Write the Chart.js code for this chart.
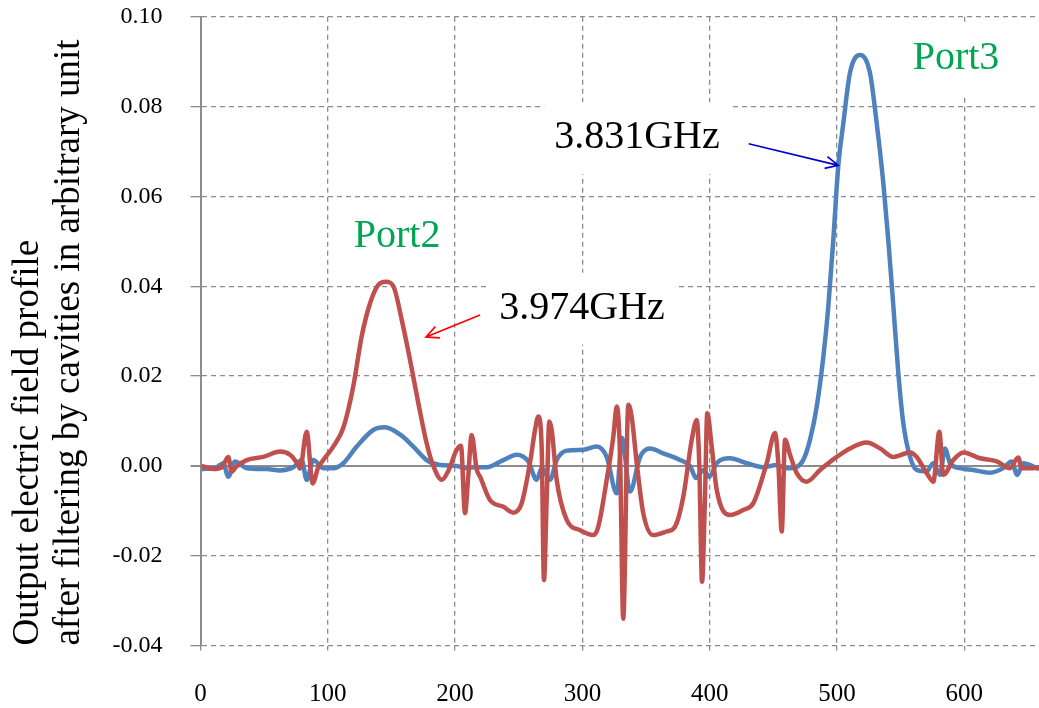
<!DOCTYPE html>
<html lang="en">
<head>
  <meta charset="UTF-8" />
  <title>Output electric field profile</title>
  <script src="https://cdn.jsdelivr.net/npm/chart.js"></script>
  <style>
    body { margin: 0; background: #fff; }
    .wrap { width: 1039px; height: 708px; position: relative; }
  </style>
</head>
<body>
  <div class="wrap"><canvas id="fieldChart"></canvas></div>
  <script>
    // Port2 (red) and Port3 (blue) output profiles
    const port2X = [0.9, 9.8, 16.7, 21.8, 24.5, 27.9, 36.3, 49.3, 62.5, 70.3, 76.8, 78.2, 83.4, 88.1, 92.3, 96.5,
      104.3, 112.2, 120.0, 126.6, 133.2, 139.7, 145.7, 151.5, 158.1, 164.6, 171.1, 177.7, 182.9, 189.5, 194.7,
      201.3, 204.6, 207.8, 210.4, 213.0, 217.0, 219.6, 227.4, 237.9, 245.7, 252.3, 258.8, 262.8, 265.4, 268.0, 269.8,
      272.0, 274.0, 275.9, 279.8, 287.7, 298.1, 308.6, 312.5, 319.1, 324.3, 327.0, 329.6, 332.1, 336.1, 338.7, 342.7,
      347.8, 355.7, 366.2, 372.8, 379.3, 385.9, 389.8, 391.8, 394.0, 396.3, 398.1, 401.6, 405.5, 416.0, 426.4, 434.3,
      444.8, 451.3, 453.9, 456.6, 459.2, 463.1, 468.4, 476.2, 486.7, 499.8, 510.2, 523.4, 533.8, 544.3, 557.4, 562.6,
      570.5, 575.7, 580.4, 583.5, 591.4, 599.2, 612.4, 625.5, 635.9, 642.4, 645.1, 654.2, 658.7];
    const port2Y = [0, -0.0007, -0.0003, 0.002, -0.0013, -0.0002, 0.0013, 0.002, 0.0032, 0.0025, 0.0002, -0.0006, 0.0076, -0.0039, -0.0005, 0.0013,
      0.0043, 0.0085, 0.0177, 0.0288, 0.0362, 0.0403, 0.041, 0.040, 0.0325, 0.0236, 0.014, 0.005, 0.0, -0.0031, -0.0011,
      0.0036, 0.0045, -0.0105, -0.002, 0.0069, -0.0008, -0.0024, -0.0076, -0.0091, -0.0104, -0.0083, 0.0006, 0.008, 0.011, 0.0043, -0.0254,
      -0.007, 0.0099, 0.008, -0.0031, -0.012, -0.0143, -0.0154, -0.0135, -0.0031, 0.0065, 0.0132, 0.002, -0.034, 0.0136, 0.011, 0.0006,
      -0.0105, -0.0154, -0.0146, -0.0135, -0.0068, 0.0058, 0.0102, 0.0006, -0.0258, -0.007, 0.0117, 0.0043, -0.0053, -0.0109, -0.0098, -0.0083,
      0.0006, 0.0073, 0.0006, -0.0146, 0.0058, 0.0025, -0.0016, -0.0035, -0.0009, 0.002, 0.0039, 0.0052, 0.0039, 0.002, 0.003, 0.002,
      -0.0016, -0.0035, 0.0076, -0.002, 0.0013, 0.003, 0.0017, 0.001, -0.0005, 0.0019, -0.0005, -0.0005, -0.0003];

    const port3X = [0.9, 12.7, 17.9, 21.8, 27.1, 36.3, 52.0, 62.5, 72.9, 79.5, 83.4, 88.6, 96.5, 104.3, 112.2, 122.7,
      135.7, 144.9, 156.7, 167.2, 177.7, 188.1, 201.3, 209.1, 214.3, 224.8, 237.9, 248.4, 257.5, 264.1, 268.0, 274.6,
      279.8, 287.7, 300.7, 311.2, 319.1, 327.0, 331.1, 337.4, 345.3, 353.1, 363.6, 376.7, 384.5, 389.3, 395.0, 399.7,
      405.5, 416.0, 429.1, 442.1, 452.6, 460.5, 468.4, 473.5, 478.8, 484.1, 489.3, 493.2, 497.1, 501.0, 505.0, 510.2,
      518.1, 525.9, 531.2, 536.4, 540.3, 544.3, 548.2, 552.1, 557.4, 562.6, 570.5, 575.7, 580.9, 584.8, 588.8, 596.6,
      607.1, 620.2, 630.6, 637.2, 641.6, 646.3, 658.7];
    const port3Y = [-0.0007, -0.0003, 0.0006, -0.0024, 0.001, -0.0005, -0.0007, -0.001, -0.0003, 0.0013, -0.0031, 0.0013, -0.0005, -0.0005, 0.0006, 0.0043,
      0.008, 0.0086, 0.007, 0.0043, 0.0013, 0.0002, 0, -0.0005, -0.0003, -0.0003, 0.0013, 0.0025, 0.001, -0.0031, -0.0005, -0.0031,
      0.0013, 0.0034, 0.0036, 0.0043, 0.002, -0.0061, 0.0062, -0.0057, 0.002, 0.0039, 0.0028, 0.0013, 0, -0.0027, -0.0009, -0.0024,
      0.0006, 0.0017, 0.0006, -0.0003, 0.0002, -0.0005, -0.0002, 0.0013, 0.0058, 0.0132, 0.0243, 0.0355, 0.0503, 0.0667, 0.0763, 0.0875,
      0.0915, 0.0875, 0.0763, 0.063, 0.0503, 0.0355, 0.0206, 0.0095, 0.002, -0.0009, -0.0012, 0.0006, -0.002, 0.0039, 0.0006, -0.0005,
      -0.0009, -0.0015, -0.0005, 0.001, -0.002, 0.0006, -0.0007];

    const xTicks = [0, 100, 200, 300, 400, 500, 600];
    const yTicks = [-0.04, -0.02, 0, 0.02, 0.04, 0.06, 0.08, 0.10];
    const xMax = 658.7;

    // text labels and arrows, in data units
    const noteText = ['Port3', '3.831GHz', 'Port2', '3.974GHz'];
    const noteX = [593.5, 342.9, 154.4, 299.7];
    const noteY = [0.0907, 0.0730, 0.0511, 0.0350];
    const arrowFromX = [430.6, 219.6];
    const arrowFromY = [0.0717, 0.0336];
    const arrowToX = [501.0, 177.1];
    const arrowToY = [0.0669, 0.0287];

    const serif = "'Liberation Serif', 'Times New Roman', serif";
    const gridGray = '#8c8c8c';

    const notesPlugin = {
      id: 'notes',
      beforeDatasetsDraw(chart) {
        const { ctx, scales: { x, y } } = chart;
        ctx.save();
        ctx.font = '40px ' + serif;
        ctx.fillStyle = '#fff';
        noteText.forEach((t, i) => {
          const w = ctx.measureText(t).width + 20;
          ctx.fillRect(x.getPixelForValue(noteX[i]) - w / 2, y.getPixelForValue(noteY[i]) - 36, w, 72);
        });
        ctx.restore();
      },
      afterDatasetsDraw(chart) {
        const { ctx, scales: { x, y } } = chart;
        const colors = ['#00A651', '#000000', '#00A651', '#000000'];
        const arrowColors = ['#0000CC', '#FF0000'];
        ctx.save();
        ctx.font = '40px ' + serif;
        ctx.textAlign = 'center';
        ctx.textBaseline = 'middle';
        noteText.forEach((t, i) => {
          ctx.fillStyle = colors[i];
          ctx.fillText(t, x.getPixelForValue(noteX[i]), y.getPixelForValue(noteY[i]));
        });
        arrowFromX.forEach((_, i) => {
          const x0 = x.getPixelForValue(arrowFromX[i]), y0 = y.getPixelForValue(arrowFromY[i]);
          const x1 = x.getPixelForValue(arrowToX[i]), y1 = y.getPixelForValue(arrowToY[i]);
          const a = Math.atan2(y1 - y0, x1 - x0);
          ctx.strokeStyle = arrowColors[i];
          ctx.lineWidth = 1.6;
          ctx.beginPath();
          ctx.moveTo(x0, y0);
          ctx.lineTo(x1, y1);
          ctx.moveTo(x1 - 14 * Math.cos(a - 0.45), y1 - 14 * Math.sin(a - 0.45));
          ctx.lineTo(x1, y1);
          ctx.lineTo(x1 - 14 * Math.cos(a + 0.45), y1 - 14 * Math.sin(a + 0.45));
          ctx.stroke();
        });
        ctx.restore();
      }
    };

    const toPoints = (xs, ys) => xs.map((v, i) => ({ x: v, y: ys[i] }));

    new Chart(document.getElementById('fieldChart'), {
      type: 'line',
      data: {
        datasets: [
          {
            label: 'Port2',
            data: toPoints(port2X, port2Y),
            borderColor: '#C0504D',
            borderWidth: 4.5,
            pointRadius: 0,
            cubicInterpolationMode: 'monotone'
          },
          {
            label: 'Port3',
            data: toPoints(port3X, port3Y),
            borderColor: '#4F81BD',
            borderWidth: 4.5,
            pointRadius: 0,
            cubicInterpolationMode: 'monotone'
          }
        ]
      },
      options: {
        responsive: true,
        maintainAspectRatio: false,
        animation: false,
        events: [],
        layout: { padding: { top: 16.7, right: 0, bottom: 0, left: 0 } },
        plugins: { legend: { display: false }, tooltip: { enabled: false } },
        scales: {
          x: {
            type: 'linear',
            min: 0,
            max: xMax,
            afterBuildTicks: s => { s.ticks = xTicks.map(v => ({ value: v })); },
            afterFit: s => { s.height = 62.4; s.paddingLeft = 0; s.paddingRight = 0; },
            grid: { color: gridGray, lineWidth: 1.3, tickLength: 5 },
            border: { display: false, dash: [5, 4] },
            ticks: {
              maxRotation: 0,
              padding: 29,
              color: '#000',
              font: { family: serif, size: 25 }
            }
          },
          y: {
            type: 'linear',
            min: -0.04,
            max: 0.10,
            afterBuildTicks: s => { s.ticks = yTicks.map(v => ({ value: v })); },
            afterFit: s => { s.width = 200.5; s.paddingTop = 0; s.paddingBottom = 0; },
            grid: {
              color: gridGray,
              lineWidth: c => (c.tick && Math.abs(c.tick.value) < 1e-9 ? 2 : 1.3),
              tickLength: 10
            },
            border: {
              display: true,
              color: gridGray,
              width: 2,
              dash: c => (c.tick && Math.abs(c.tick.value) < 1e-9 ? [] : [5, 4])
            },
            ticks: {
              padding: 28,
              color: '#000',
              font: { family: serif, size: 24 },
              callback: v => (Math.abs(v) < 1e-9 ? '0.00' : v.toFixed(2))
            },
            title: {
              display: true,
              text: ['Output electric field profile', 'after filtering by cavities in arbitrary unit'],
              align: 'start',
              color: '#000',
              font: { family: serif, size: 37, lineHeight: 1.1 },
              padding: { top: 8, bottom: 0 }
            }
          }
        }
      },
      plugins: [notesPlugin]
    });
  </script>
</body>
</html>
